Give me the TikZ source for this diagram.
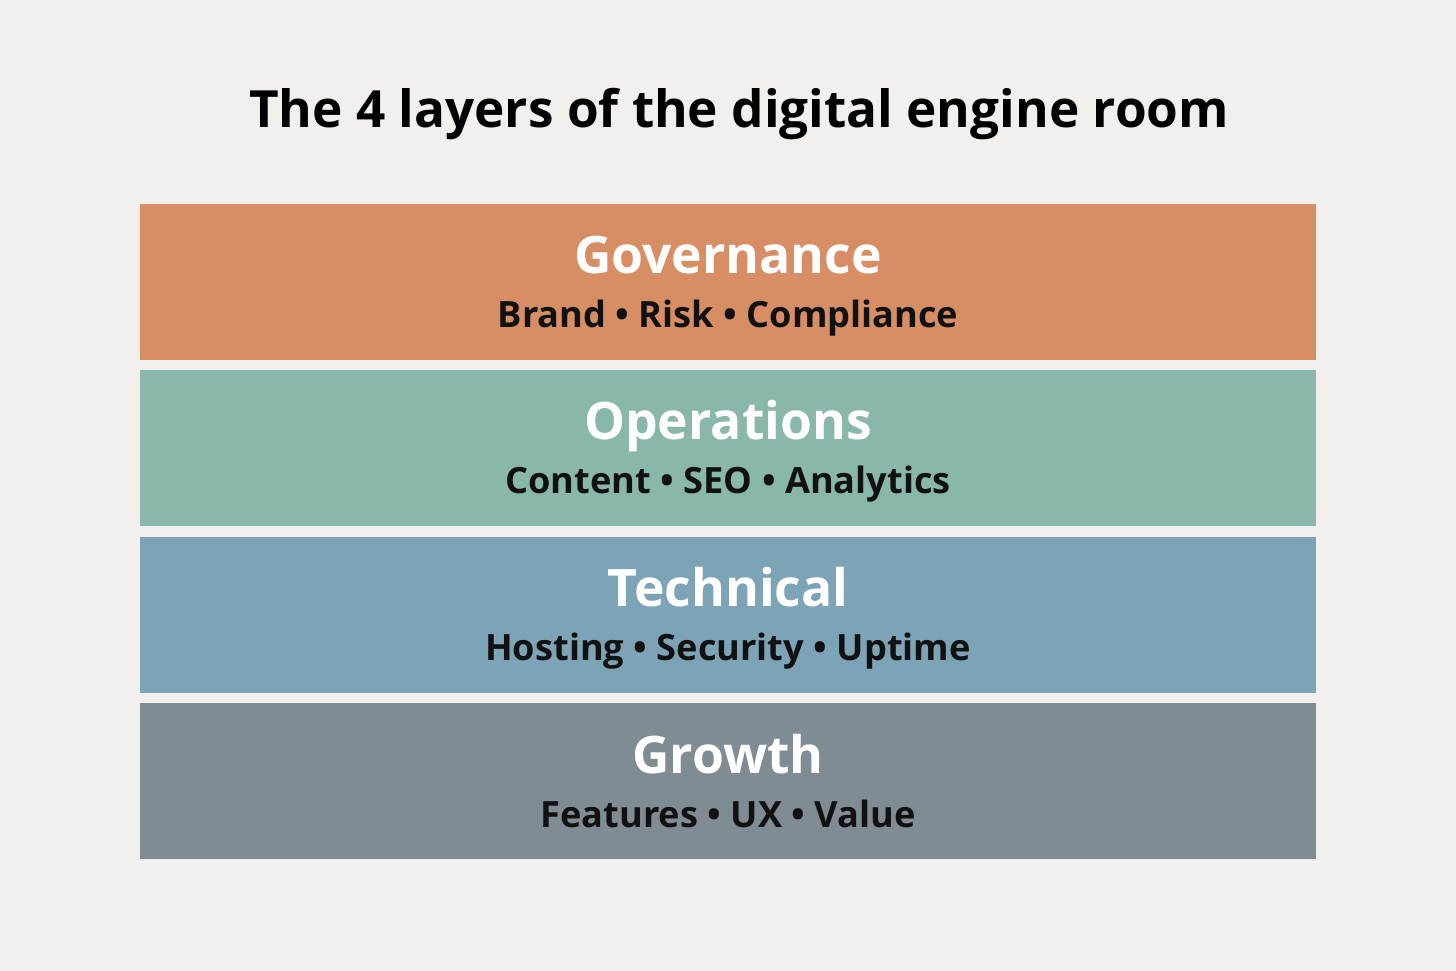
\documentclass[tikz,border=0pt]{standalone}
\usepackage{fontspec}
\setmainfont{Open Sans}
\usepackage{tikz}
\usetikzlibrary{positioning}
\definecolor{erBack}{HTML}{F1F0EC}
\definecolor{erGov}{HTML}{D88E64}
\definecolor{erOps}{HTML}{8AB7AB}
\definecolor{erTech}{HTML}{7CA3B6}
\definecolor{erGrowth}{HTML}{808C94}
\definecolor{erInk}{HTML}{111111}

\begin{document}
\begin{tikzpicture}[
    layerbox/.style={minimum width=11.76cm, minimum height=1.56cm, inner sep=0pt, outer sep=0pt},
    layerhead/.style={anchor=base, text=white, font=\fontsize{14.7}{16}\selectfont\bfseries},
    layersub/.style={anchor=base, text=erInk, font=\fontsize{10.3}{12}\selectfont\bfseries}]
    % Canvas
    \fill[erBack] (0,0) rectangle (14.56,-9.71);
    \useasboundingbox (0,0) rectangle (14.56,-9.71);

    % Title
    \node[anchor=base, text=black, font=\fontsize{14.6}{18}\selectfont\bfseries] at (7.39,-1.28) (title) {The 4 layers of the digital engine room};

    % Governance layer
    \node[layerbox, fill=erGov] at (7.28,-2.82) (gov) {};
    \node[layerhead] at (7.28,-2.74) (govhead) {Governance};
    \node[layersub] at (7.28,-3.28) (govsub) {Brand • Risk • Compliance};

    % Operations layer
    \node[layerbox, fill=erOps] at (7.28,-4.48) (ops) {};
    \node[layerhead] at (7.28,-4.40) (opshead) {Operations};
    \node[layersub] at (7.28,-4.94) (opssub) {Content • SEO • Analytics};

    % Technical layer
    \node[layerbox, fill=erTech] at (7.28,-6.15) (tech) {};
    \node[layerhead] at (7.28,-6.07) (techhead) {Technical};
    \node[layersub] at (7.28,-6.61) (techsub) {Hosting • Security • Uptime};

    % Growth layer
    \node[layerbox, fill=erGrowth] at (7.28,-7.81) (growth) {};
    \node[layerhead] at (7.28,-7.73) (growthhead) {Growth};
    \node[layersub] at (7.28,-8.27) (growthsub) {Features • UX • Value};
\end{tikzpicture}
\end{document}
